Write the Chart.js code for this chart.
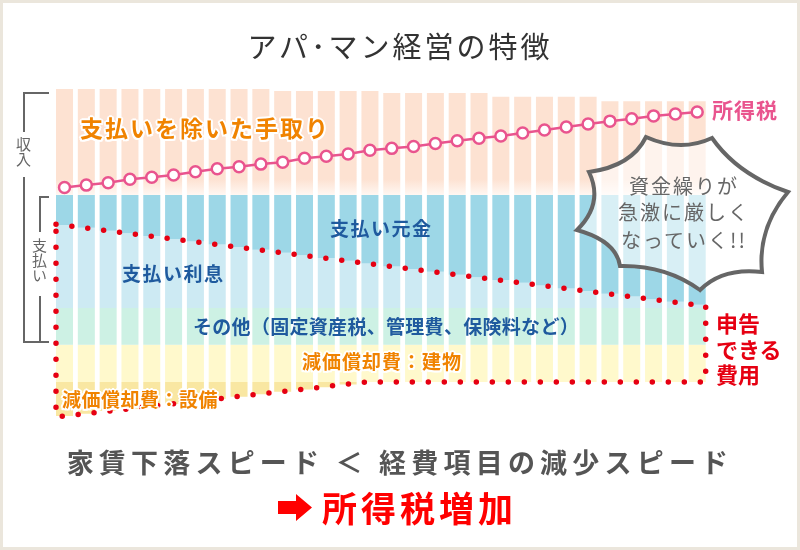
<!DOCTYPE html>
<html lang="ja">
<head>
<meta charset="utf-8">
<title>アパ･マン経営の特徴</title>
<script src="https://cdn.jsdelivr.net/npm/chart.js@4.4.1/dist/chart.umd.min.js"></script>
<style>
  html, body { margin: 0; padding: 0; background: #fff; }
  #wrap { position: relative; width: 800px; height: 550px; overflow: hidden;
          font-family: "Noto Sans CJK JP", "Noto Sans", sans-serif; }
  #chartBox { position: absolute; left: 0; top: 0; width: 800px; height: 550px; }
  .deco { position: absolute; left: 0; top: 0; }
  .frame { position: absolute; left: 0; top: 0; width: 800px; height: 550px;
           border: 3px solid #ebe6dc; box-sizing: border-box; }
  .t { position: absolute; white-space: nowrap; line-height: 1; }
  .orange { color: #f08300; font-weight: 700;
            text-shadow: 2px 0 #fff, -2px 0 #fff, 0 2px #fff, 0 -2px #fff,
                         1.5px 1.5px #fff, -1.5px -1.5px #fff, 1.5px -1.5px #fff, -1.5px 1.5px #fff; }
  .blue { color: #1f5a9e; font-weight: 700; font-size: 19px; letter-spacing: 1.5px; }
  .red { color: #e60012; font-weight: 700; font-size: 22px; }
  .vert { writing-mode: vertical-rl; color: #666; font-size: 15px; }
  .burst { color: #666; font-size: 20px; letter-spacing: 2px; width: 200px; text-align: center; left: 584px; }
</style>
</head>
<body>
<div id="wrap">
  <div id="chartBox"><canvas id="chart"></canvas></div>

  <svg class="deco" width="800" height="550">
    <g fill="none" stroke="#666" stroke-width="2">
      <path d="M49 93 H24 V132 M24 177 V342 H49"/>
      <path d="M49 197 H40 V232 M40 296 V342"/>
    </g>
    <path d="M646 137 Q680.8 152.6 712 138 Q737.6 174.6 788 192 Q757.6 228.2 762 272 Q722.4 267.4 700 290 Q665.6 265 620 266 Q616.4 241 577 230 Q604 203.4 589 172 Q631.6 166.2 646 137 Z"
          fill="rgba(255,255,255,0.6)" stroke="#666" stroke-width="4" stroke-linejoin="miter"/>
    <polygon points="278,501 296,501 296,494 312,507.5 296,521 296,514 278,514" fill="#f00"/>
  </svg>

  <div class="t" style="left:0;width:800px;text-align:center;top:31px;font-size:29px;letter-spacing:3px;color:#333;">アパ･マン経営の特徴</div>

  <div class="t vert" style="left:16px;top:137px;">収入</div>
  <div class="t vert" style="left:32px;top:238px;">支払い</div>

  <div class="t orange" style="left:80px;top:116px;font-size:23px;letter-spacing:2px;">支払いを除いた手取り</div>
  <div class="t" style="left:712px;top:99px;font-size:21px;letter-spacing:1px;font-weight:700;color:#e9548e;">所得税</div>
  <div class="t blue" style="left:330px;top:218px;">支払い元金</div>
  <div class="t blue" style="left:122px;top:263px;">支払い利息</div>
  <div class="t blue" style="left:193px;top:316px;letter-spacing:0.3px;">その他（固定資産税、管理費、保険料など）</div>
  <div class="t orange" style="left:302px;top:351px;font-size:19px;letter-spacing:1px;">減価償却費：建物</div>
  <div class="t orange" style="left:62px;top:389px;font-size:19px;letter-spacing:0.5px;">減価償却費：設備</div>

  <div class="t red" style="left:716px;top:311px;">申告</div>
  <div class="t red" style="left:716px;top:337px;">できる</div>
  <div class="t red" style="left:716px;top:362px;">費用</div>

  <div class="t burst" style="top:176px;">資金繰りが</div>
  <div class="t burst" style="top:202px;">急激に厳しく</div>
  <div class="t burst" style="top:230px;">なっていく!!</div>

  <div class="t" style="left:0;width:800px;text-align:center;top:448px;font-size:27px;letter-spacing:5.2px;font-weight:700;color:#555;">家賃下落スピード ＜ 経費項目の減少スピード</div>
  <div class="t" style="left:322px;top:489px;font-size:35px;letter-spacing:4px;font-weight:700;color:#f00;">所得税増加</div>

  <div class="frame"></div>
</div>

<script>
// 経過年数（30年）
const years = [1, 2, 3, 4, 5, 6, 7, 8, 9, 10, 11, 12, 13, 14, 15,
               16, 17, 18, 19, 20, 21, 22, 23, 24, 25, 26, 27, 28, 29, 30];

// 家賃収入（上端）: 5年ごとに下落
const incomeTop = [100, 100, 100, 100, 100, 100, 100, 100, 100, 100,
                   99.4, 99.4, 99.4, 99.4, 99.4, 98.8, 98.8, 98.8, 98.8, 98.8,
                   97.6, 97.6, 97.6, 97.6, 97.6, 96.3, 96.3, 96.3, 96.3, 96.3];

// 支払い（ローン返済 + その他）の上端
const paymentTop = 67.7;

// 元金と利息の境目（元金が増え、利息が減る）
const principalBottom = [58.5, 57.7, 56.8, 56.0, 55.2, 54.3, 53.5, 52.6, 51.8, 51.0,
                         50.1, 49.3, 48.5, 47.6, 46.8, 45.9, 45.1, 44.3, 43.4, 42.6,
                         41.8, 40.9, 40.1, 39.2, 38.4, 37.6, 36.7, 35.9, 35.1, 34.2];

const interestBottom = 33.2;   // 利息の下端 = その他の上端
const otherBottom = 22.0;      // その他の下端 = 建物の上端
const buildingBottom = 10.7;   // 建物の下端 = 設備の上端

// 減価償却費：設備（14年目まで）
const equipmentBottom = [0.3, 1.0, 1.8, 2.5, 3.2, 4.0, 4.7, 5.5, 6.2, 6.9,
                         7.7, 8.4, 9.1, 9.9, null, null, null, null, null, null,
                         null, null, null, null, null, null, null, null, null, null];

// 所得税
const incomeTax = [70.0, 70.7, 71.4, 72.5, 73.1, 73.8, 74.8, 75.7, 76.3, 77.1,
                   77.7, 78.9, 79.5, 80.2, 81.3, 81.9, 82.5, 83.4, 84.2, 85.0,
                   85.7, 86.6, 87.5, 88.4, 89.3, 90.2, 90.9, 91.8, 92.4, 93.0];

// 申告できる費用の範囲（点線）
const deductibleX = [-0.39, 29.39, 29.39, 13.9, -0.39, -0.39];
const deductibleY = [58.8, 33.8, 10.7, 10.7, 0, 58.8];

const pick = (v, i) => Array.isArray(v) ? v[i] : v;
const span = (lo, hi) => years.map((_, i) => {
    const a = pick(lo, i), b = pick(hi, i);
    return (a == null || b == null) ? null : [a, b];
});

const barBase = {
    type: 'bar',
    grouped: false,
    barPercentage: 0.78,
    categoryPercentage: 1,
    borderWidth: 0,
    order: 2
};

function incomeFill(ctx) {
    const chart = ctx.chart;
    if (!chart.chartArea) return '#fde2d2';
    const y = chart.scales.y;
    const g = chart.ctx.createLinearGradient(0, y.getPixelForValue(72.5), 0, y.getPixelForValue(paymentTop));
    g.addColorStop(0, '#fde2d2');
    g.addColorStop(1, '#fff7f2');
    return g;
}

new Chart(document.getElementById('chart'), {
    type: 'bar',
    data: {
        labels: years,
        datasets: [{
            type: 'line',
            label: '所得税',
            data: incomeTax,
            borderColor: '#e9548e',
            borderWidth: 2.5,
            pointRadius: 5.5,
            pointBackgroundColor: '#fff',
            pointBorderColor: '#e9548e',
            pointBorderWidth: 2.5,
            clip: false,
            order: 0
        }, {
            type: 'line',
            label: '申告できる費用',
            xAxisID: 'x2',
            data: deductibleX.map((x, i) => ({x: x, y: deductibleY[i]})),
            borderColor: '#e60012',
            borderWidth: 5.5,
            borderDash: [0, 16],
            borderCapStyle: 'round',
            pointRadius: 0,
            fill: false,
            clip: false,
            order: 1
        },
        Object.assign({label: '支払いを除いた手取り', data: span(paymentTop, incomeTop), backgroundColor: incomeFill}, barBase),
        Object.assign({label: '支払い元金', data: span(principalBottom, paymentTop), backgroundColor: '#9dd7e7'}, barBase),
        Object.assign({label: '支払い利息', data: span(interestBottom, principalBottom), backgroundColor: '#cdeaf3'}, barBase),
        Object.assign({label: 'その他', data: span(otherBottom, interestBottom), backgroundColor: '#cdf1e4'}, barBase),
        Object.assign({label: '減価償却費：建物', data: span(buildingBottom, otherBottom), backgroundColor: '#fff9cc'}, barBase),
        Object.assign({label: '減価償却費：設備', data: span(equipmentBottom, buildingBottom), backgroundColor: '#f9e7a2'}, barBase)
        ]
    },
    options: {
        responsive: true,
        maintainAspectRatio: false,
        devicePixelRatio: 1,
        animation: false,
        events: [],
        layout: {padding: {left: 53.6, right: 91.9, top: 89, bottom: 133}},
        scales: {
            x: {type: 'category', display: false, offset: true},
            x2: {type: 'linear', display: false, offset: false, bounds: 'data', min: -0.5, max: 29.5},
            y: {min: 0, max: 100, display: false}
        },
        plugins: {legend: {display: false}, tooltip: {enabled: false}}
    }
});
</script>
</body>
</html>
